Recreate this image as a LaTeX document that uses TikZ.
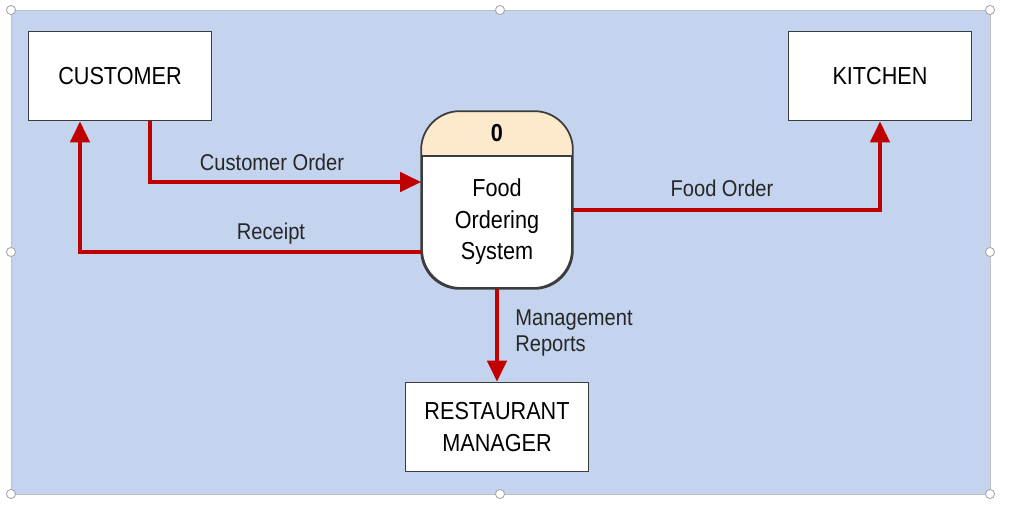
\documentclass[tikz,border=0pt]{standalone}
\usepackage{fontspec}
\setmainfont{Liberation Sans}[FakeStretch=0.88]
\usetikzlibrary{arrows.meta}

\definecolor{bgblue}{RGB}{197,212,238}
\definecolor{headtan}{RGB}{253,233,204}
\definecolor{flowred}{RGB}{192,0,0}
\definecolor{edgegray}{RGB}{60,60,60}

\tikzset{
    entity/.style={draw=edgegray, line width=1pt, fill=white, minimum width=3.66cm,
        minimum height=1.78cm, align=center, font=\fontsize{14}{18}\selectfont},
    flow/.style={draw=flowred, line width=2.2pt,
        -{Triangle[length=12pt,width=11pt]}},
    flowlabel/.style={font=\fontsize{13}{15}\selectfont, text=black!85, inner sep=0pt},
    handle/.style={draw=gray!70, fill=white, line width=0.5pt},
}

\begin{document}
\begin{tikzpicture}[x=0.02cm,y=-0.02cm]
        \useasboundingbox (0,0) rectangle (1011,505);

        % Hintergrund
        \draw[fill=bgblue, draw=gray!50] (11,10) rectangle (990,494);

        % Entitaeten
        \node[entity] (cust) at (120,76) {CUSTOMER};
        \node[entity] (kit) at (880,76) {KITCHEN};
        \node[entity] (mgr) at (497,427) {RESTAURANT\\MANAGER};

        % Prozess
        \node[draw=edgegray, line width=1pt, fill=white, rounded corners=22pt,
            minimum width=3cm, minimum height=3.52cm] (sys) at (497,200) {};
        \coordinate (H1) at ([yshift=-0.9cm]sys.north west);
        \coordinate (H2) at ([yshift=-0.9cm]sys.north east);
        \begin{scope}
            \clip[rounded corners=22pt] (sys.south west) rectangle (sys.north east);
            \fill[headtan] (sys.north west) rectangle (H2);
        \end{scope}
        \draw[edgegray, line width=1pt, rounded corners=22pt]
            (sys.south west) rectangle (sys.north east);
        \draw[edgegray, line width=1pt] (H1) -- (H2);
        \node[font=\bfseries\fontsize{14}{16}\selectfont] (sysid) at (497,133) {0};
        \node[align=center, font=\fontsize{14}{18}\selectfont] (sysname) at (497,222)
            {Food\\Ordering\\System};

        % Datenfluesse
        \draw[flow] (cust.south -| 150,0) |- (sys.west |- 0,182);
        \draw[flow] (sys.west |- 0,252) -| (cust.south -| 80,0);
        \draw[flow] (sys.east |- 0,210) -| (kit.south -| 880,0);
        \draw[flow] (sys.south) -- (mgr.north);

        % Beschriftung
        \node[flowlabel] (lorder) at (272,162) {Customer Order};
        \node[flowlabel] (lreceipt) at (271,234) {Receipt};
        \node[flowlabel] (lfood) at (722,188) {Food Order};
        \node[flowlabel, anchor=west, align=left] (lreport) at (515,333)
            {Management\\Reports};

        % Markierungspunkte
        \foreach \x/\y in {11/10,500/10,990/10,11/252,990/252,11/494,500/494,990/494}
            \draw[handle] (\x,\y) circle (2.6pt);
    \end{tikzpicture}
\end{document}
